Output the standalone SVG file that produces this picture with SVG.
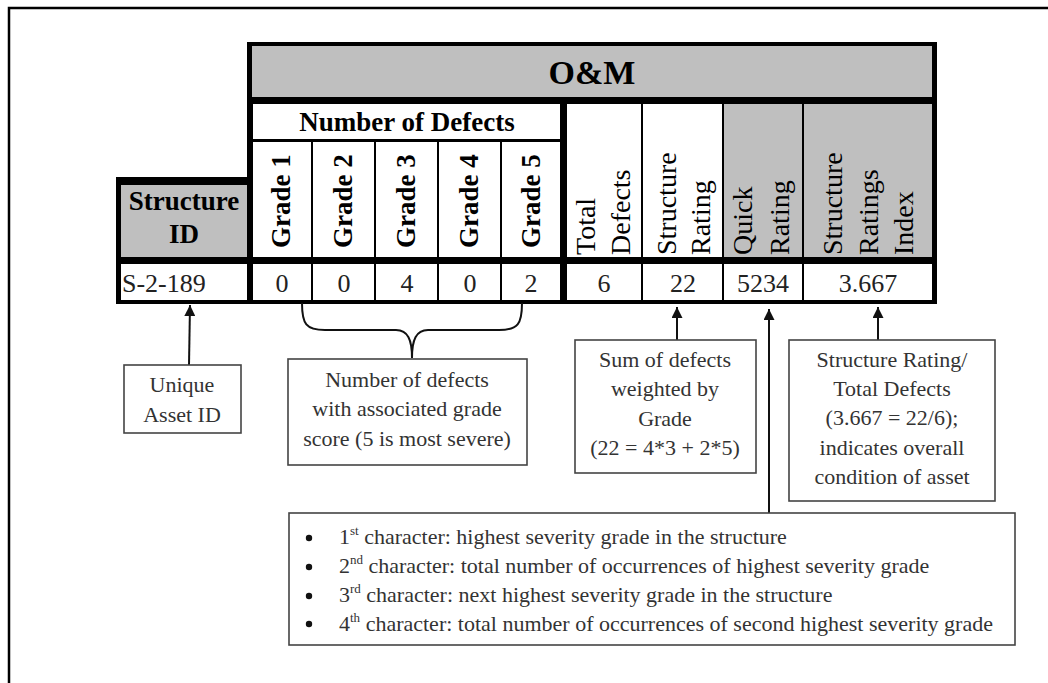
<svg xmlns="http://www.w3.org/2000/svg" width="1048" height="683" viewBox="0 0 1048 683">
<style>
.hdr{font-family:"Liberation Serif",serif;font-weight:bold;fill:#000}
.rot{font-family:"Liberation Serif",serif;font-size:28px;fill:#000}
.grd{font-family:"Liberation Serif",serif;font-weight:bold;font-size:27px;fill:#000}
.val{font-family:"Liberation Serif",serif;font-size:26px;fill:#222;text-anchor:middle}
.ann{font-family:"Liberation Serif",serif;font-size:22px;fill:#333;text-anchor:middle}
.bul{font-family:"Liberation Serif",serif;font-size:22px;fill:#333}
.sup{font-size:13px}
.box{fill:#fff;stroke:#444;stroke-width:1.6}
.gray{fill:#bfbfbf}
.white{fill:#fff}
.conn{stroke:#111;stroke-width:2;fill:none}
</style>
<defs>
<marker id="arr" markerWidth="11" markerHeight="11" refX="11" refY="5.5" orient="auto" markerUnits="userSpaceOnUse" viewBox="0 0 11 11">
<path d="M0,0 L11,5.5 L0,11 Z" fill="#111"/>
</marker>
</defs>
<rect width="1048" height="683" fill="#fff"/>
<!-- outer frame -->
<path d="M1048,8 L9,8 L9,683" fill="none" stroke="#000" stroke-width="2.5"/>

<!-- table -->
<g id="table">
<rect x="247" y="42" width="690" height="262" fill="#000"/>
<rect x="116" y="177" width="137" height="127" fill="#000"/>
<g id="om-header">
<rect class="gray" x="252" y="46" width="680" height="51"/>
<text class="hdr" x="592" y="84" font-size="34" text-anchor="middle">O&amp;M</text>
</g>
<g id="number-of-defects">
<rect class="white" x="253" y="104" width="307" height="35"/>
<text class="hdr" x="407" y="131" font-size="27" text-anchor="middle">Number of Defects</text>
</g>
<g id="structure-id">
<rect class="gray" x="121" y="185" width="126" height="72"/>
<text class="hdr" x="184" y="210" font-size="27" text-anchor="middle">Structure</text>
<text class="hdr" x="184" y="243" font-size="27" text-anchor="middle">ID</text>
<rect class="white" x="121" y="264" width="126" height="36"/>
<text class="val" x="122" y="292" style="text-anchor:start">S-2-189</text>
</g>
<g id="grade-1">
<rect class="white" x="253" y="142" width="58" height="115"/>
<text class="grd" transform="translate(290,248) rotate(-90)">Grade 1</text>
<rect class="white" x="253" y="264" width="58" height="36"/>
<text class="val" x="282" y="292">0</text>
</g>
<g id="grade-2">
<rect class="white" x="313" y="142" width="61" height="115"/>
<text class="grd" transform="translate(352,248) rotate(-90)">Grade 2</text>
<rect class="white" x="313" y="264" width="61" height="36"/>
<text class="val" x="344" y="292">0</text>
</g>
<g id="grade-3">
<rect class="white" x="376" y="142" width="61" height="115"/>
<text class="grd" transform="translate(415,248) rotate(-90)">Grade 3</text>
<rect class="white" x="376" y="264" width="61" height="36"/>
<text class="val" x="407" y="292">4</text>
</g>
<g id="grade-4">
<rect class="white" x="439" y="142" width="61" height="115"/>
<text class="grd" transform="translate(478,248) rotate(-90)">Grade 4</text>
<rect class="white" x="439" y="264" width="61" height="36"/>
<text class="val" x="470" y="292">0</text>
</g>
<g id="grade-5">
<rect class="white" x="502" y="142" width="58" height="115"/>
<text class="grd" transform="translate(540,248) rotate(-90)">Grade 5</text>
<rect class="white" x="502" y="264" width="58" height="36"/>
<text class="val" x="531" y="292">2</text>
</g>
<g id="total-defects">
<rect class="white" x="567" y="104" width="74" height="153"/>
<text class="rot" transform="translate(595,255) rotate(-90)">Total</text>
<text class="rot" transform="translate(630,255) rotate(-90)">Defects</text>
<rect class="white" x="567" y="264" width="74" height="36"/>
<text class="val" x="604" y="292">6</text>
</g>
<g id="structure-rating">
<rect class="white" x="643" y="104" width="79" height="153"/>
<text class="rot" transform="translate(676,255) rotate(-90)">Structure</text>
<text class="rot" transform="translate(710,255) rotate(-90)">Rating</text>
<rect class="white" x="643" y="264" width="79" height="36"/>
<text class="val" x="683" y="292">22</text>
</g>
<g id="quick-rating">
<rect class="gray" x="724" y="104" width="78" height="153"/>
<text class="rot" transform="translate(752,255) rotate(-90)">Quick</text>
<text class="rot" transform="translate(789,255) rotate(-90)">Rating</text>
<rect class="white" x="724" y="264" width="78" height="36"/>
<text class="val" x="763" y="292">5234</text>
</g>
<g id="structure-ratings-index">
<rect class="gray" x="804" y="104" width="128" height="153"/>
<text class="rot" transform="translate(842,255) rotate(-90)">Structure</text>
<text class="rot" transform="translate(878,255) rotate(-90)">Ratings</text>
<text class="rot" transform="translate(913,255) rotate(-90)">Index</text>
<rect class="white" x="804" y="264" width="128" height="36"/>
<text class="val" x="868" y="292">3.667</text>
</g>
</g>

<!-- connectors -->
<g id="connectors">
<line class="conn" x1="189" y1="365" x2="190" y2="305" marker-end="url(#arr)"/>
<path class="conn" stroke-width="2.5" d="M302,303 C302,324 306,330 325,330 L396,330 C408,330 412,340 412,358 C412,340 416,330 428,330 L499,330 C518,330 522,324 522,303"/>
<line class="conn" x1="677" y1="340" x2="677" y2="307" marker-end="url(#arr)"/>
<line class="conn" x1="769" y1="513" x2="769" y2="309" marker-end="url(#arr)"/>
<line class="conn" x1="878" y1="340" x2="878" y2="307" marker-end="url(#arr)"/>
</g>

<g id="note-unique">
<rect class="box" x="124" y="365" width="117" height="68"/>
<text class="ann" x="182" y="392">Unique</text>
<text class="ann" x="182" y="422">Asset ID</text>
</g>
<g id="note-defects">
<rect class="box" x="288" y="359" width="239" height="106"/>
<text class="ann" x="407" y="387">Number of defects</text>
<text class="ann" x="407" y="416">with associated grade</text>
<text class="ann" x="407" y="446">score (5 is most severe)</text>
</g>
<g id="note-sum">
<rect class="box" x="575" y="340" width="181" height="133"/>
<text class="ann" x="665" y="367">Sum of defects</text>
<text class="ann" x="665" y="396">weighted by</text>
<text class="ann" x="665" y="426">Grade</text>
<text class="ann" x="665" y="455">(22 = 4*3 + 2*5)</text>
</g>
<g id="note-sri">
<rect class="box" x="789" y="340" width="206" height="161"/>
<text class="ann" x="892" y="367">Structure Rating/</text>
<text class="ann" x="892" y="396">Total Defects</text>
<text class="ann" x="892" y="425">(3.667 = 22/6);</text>
<text class="ann" x="892" y="455">indicates overall</text>
<text class="ann" x="892" y="484">condition of asset</text>
</g>
<g id="note-quick">
<rect class="box" x="289" y="513" width="726" height="132"/>
<circle cx="309" cy="538" r="3.2" fill="#111"/>
<circle cx="309" cy="567" r="3.2" fill="#111"/>
<circle cx="309" cy="596" r="3.2" fill="#111"/>
<circle cx="309" cy="624" r="3.2" fill="#111"/>
<text class="bul" x="339" y="544">1<tspan class="sup" dy="-9">st</tspan><tspan dy="9"> character: highest severity grade in the structure</tspan></text>
<text class="bul" x="339" y="573">2<tspan class="sup" dy="-9">nd</tspan><tspan dy="9"> character: total number of occurrences of highest severity grade</tspan></text>
<text class="bul" x="339" y="602">3<tspan class="sup" dy="-9">rd</tspan><tspan dy="9"> character: next highest severity grade in the structure</tspan></text>
<text class="bul" x="339" y="631">4<tspan class="sup" dy="-9">th</tspan><tspan dy="9"> character: total number of occurrences of second highest severity grade</tspan></text>
</g>
</svg>
